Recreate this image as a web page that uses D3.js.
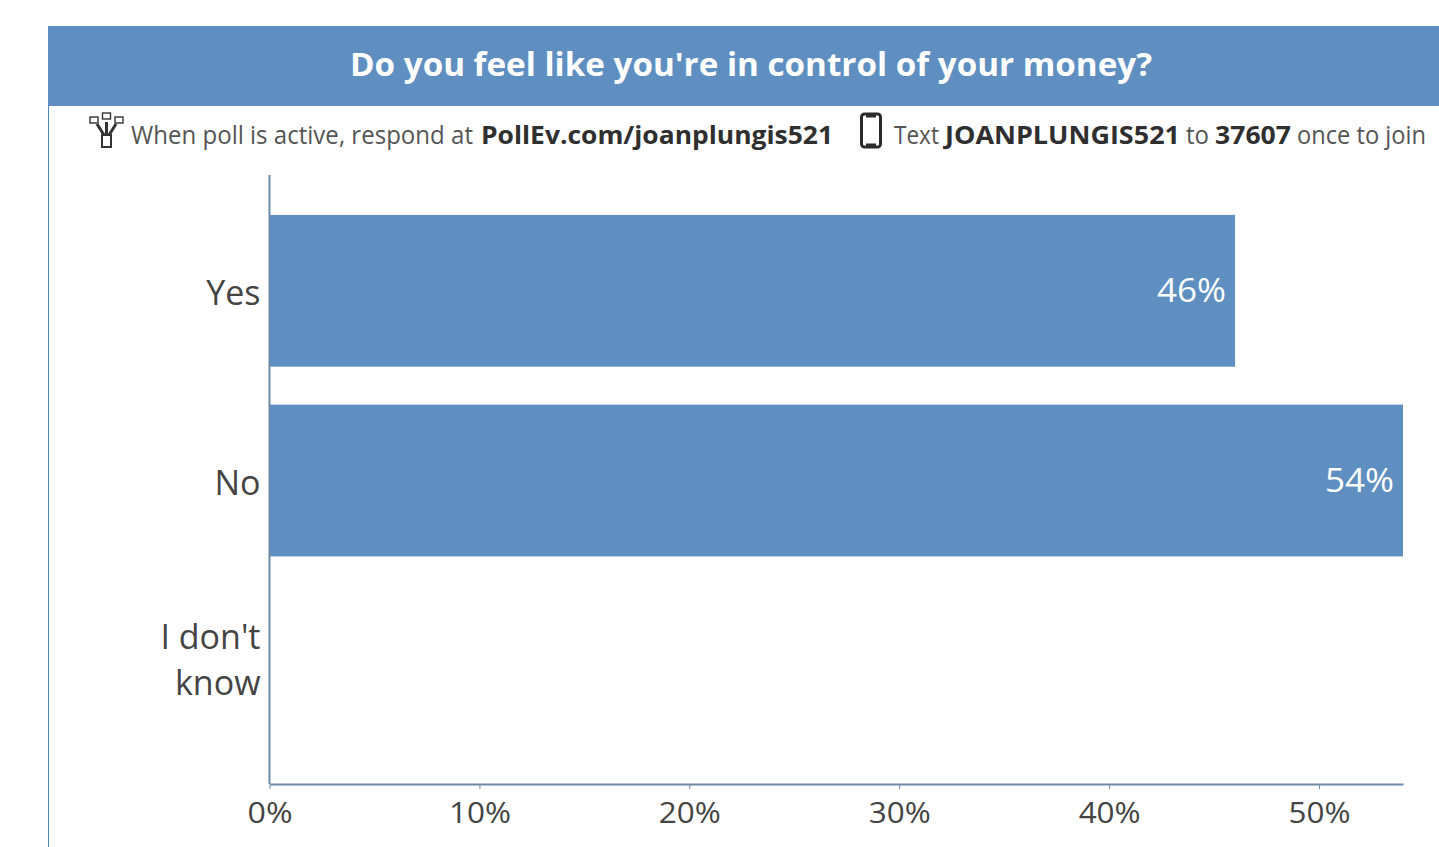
<!DOCTYPE html>
<html>
<head>
<meta charset="utf-8">
<script src="https://cdn.jsdelivr.net/npm/d3@7/dist/d3.min.js"></script>
<style>
html,body{margin:0;padding:0;background:#fff;overflow:hidden}
svg{display:block}
text{font-family:"Open Sans",sans-serif}
</style>
</head>
<body>
<svg id="chart" width="1439" height="847"></svg>
<script>
const title = "Do you feel like you're in control of your money?";
const categories = ["Yes", "No", "I don't know"];
const shares = [46, 54, 0];
const tickValues = [0, 10, 20, 30, 40, 50];
const barColor = "#5f8fc1";
const inkColor = "#444";
const axisColor = "#6b8aa8";

const svg = d3.select("#chart");

const x = d3.scaleLinear().domain([0, 54]).range([269.5, 1403]);
const y = d3.scaleBand().domain(categories).range([177, 784]).paddingInner(0.2).paddingOuter(0.2);

// Slide frame and header band
svg.append("line").attr("x1", 48.5).attr("x2", 48.5).attr("y1", 26).attr("y2", 847)
  .attr("stroke", "#4f86bd").attr("stroke-width", 1);
svg.append("rect").attr("x", 48).attr("y", 26).attr("width", 1391).attr("height", 80).attr("fill", barColor);
svg.append("text").attr("x", 751).attr("y", 76).attr("text-anchor", "middle")
  .attr("fill", "#fff").attr("font-size", 32.5).attr("font-weight", 700)
  .attr("textLength", 802).attr("lengthAdjust", "spacingAndGlyphs").text(title);

// Instruction line: segments of regular and bold text placed by their left edge
const instructions = [
  {t: "When poll is active, respond at", x: 131, w: 342, b: false},
  {t: "PollEv.com/joanplungis521", x: 481, w: 352, b: true},
  {t: "Text", x: 894, w: 45, b: false},
  {t: "JOANPLUNGIS521", x: 945, w: 235, b: true},
  {t: "to", x: 1186, w: 23, b: false},
  {t: "37607", x: 1215, w: 76, b: true},
  {t: "once to join", x: 1297, w: 129, b: false}
];
svg.append("g").selectAll("text").data(instructions).join("text")
  .attr("x", d => d.x).attr("y", 144)
  .attr("font-size", 25.5).attr("font-weight", d => d.b ? 700 : 400)
  .attr("fill", d => d.b ? "#2f2f2f" : "#555")
  .attr("textLength", d => d.w).attr("lengthAdjust", "spacingAndGlyphs")
  .text(d => d.t);

// Web response icon
const web = svg.append("g").attr("fill", "none").attr("stroke", "#333").attr("stroke-width", 2);
web.append("rect").attr("x", 102).attr("y", 135).attr("width", 9).attr("height", 12);
web.append("path").attr("d", "M106.5 122V135M97 124L104 135M116 124L109 135").attr("stroke-width", 3);
web.selectAll("rect.node").data([[90, 117], [102.5, 113], [115, 117]]).join("rect").attr("class", "node")
  .attr("x", d => d[0]).attr("y", d => d[1]).attr("width", 8).attr("height", 6).attr("stroke-width", 1.4);

// Phone icon
svg.append("rect").attr("x", 861.5).attr("y", 114).attr("width", 19).attr("height", 33).attr("rx", 3)
  .attr("fill", "none").attr("stroke", "#2b2b2b").attr("stroke-width", 3);
svg.append("path").attr("d", "M866 116H876M866 145H876").attr("stroke", "#2b2b2b").attr("stroke-width", 3);

// Bars and their value labels
const rows = categories.map((c, i) => ({c, v: shares[i]})).filter(d => d.v > 0);
svg.append("g").selectAll("rect").data(rows).join("rect")
  .attr("x", x(0)).attr("y", d => y(d.c))
  .attr("width", d => x(d.v) - x(0)).attr("height", y.bandwidth())
  .attr("fill", barColor);

svg.append("g").selectAll("text").data(rows).join("text")
  .attr("x", d => x(d.v) - 9).attr("y", d => y(d.c) + y.bandwidth() / 2 + 11)
  .attr("text-anchor", "end").attr("fill", "#fff").attr("font-size", 32)
  .attr("textLength", 69).attr("lengthAdjust", "spacingAndGlyphs")
  .text(d => d.v + "%");

// Value axis
const xAxis = d3.axisBottom(x).tickValues(tickValues).tickFormat(d => d + "%")
  .tickSizeInner(5).tickSizeOuter(0).tickPadding(13);
const gx = svg.append("g").attr("transform", "translate(0,784)").call(xAxis);
gx.select(".domain").attr("stroke", axisColor).attr("stroke-width", 2);
gx.selectAll(".tick line").attr("stroke", axisColor);
gx.selectAll(".tick text").attr("fill", inkColor).attr("font-size", 30)
  .attr("font-family", '"Open Sans",sans-serif')
  .attr("textLength", d => d === 0 ? 45 : 62).attr("lengthAdjust", "spacingAndGlyphs");

// Category axis, with no tick marks and a wrapped long label
const yAxis = d3.axisLeft(y).tickSize(0).tickPadding(9);
const gy = svg.append("g").attr("transform", "translate(269.5,0)").call(yAxis);
gy.select(".domain").attr("d", "M0,175V784").attr("stroke", axisColor).attr("stroke-width", 2);
gy.selectAll(".tick text").each(function (d) {
  const label = d3.select(this).attr("fill", inkColor).attr("font-size", 34)
    .attr("font-family", '"Open Sans",sans-serif').attr("dy", null).text(null);
  const lines = d === "I don't know" ? ["I don't", "know"] : [d];
  const first = lines.length === 1 ? 14 : -21;
  lines.forEach((line, i) => {
    label.append("tspan").attr("x", -9).attr("y", first + i * 46).text(line);
  });
});
</script>
</body>
</html>
